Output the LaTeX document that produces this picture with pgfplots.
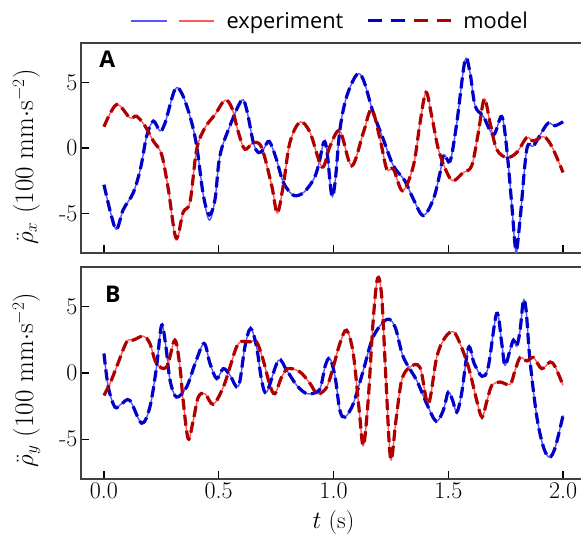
\documentclass[border=0pt]{standalone}
\usepackage{fontspec}
\usepackage{pgfplots}
\usepackage{pgfplotstable}
\pgfplotsset{compat=1.18}
\newfontfamily\opensans{Open Sans}

\definecolor{expblue}{RGB}{85,85,255}
\definecolor{expred}{RGB}{255,90,90}
\definecolor{modblue}{RGB}{0,0,200}
\definecolor{modred}{RGB}{175,0,0}

% panel A, x component
\pgfplotstableread{
t exp mod
0.000 -2.80 -2.80
0.030 -5.00 -5.00
0.055 -6.20 -6.20
0.084 -4.70 -4.70
0.128 -3.40 -3.40
0.160 -1.50 -1.50
0.186 0.90 0.90
0.215 2.05 2.05
0.244 1.30 1.30
0.266 1.90 1.90
0.309 4.45 4.45
0.338 4.20 4.20
0.375 2.40 2.40
0.404 0.15 0.15
0.433 -3.60 -3.60
0.459 -5.50 -5.10
0.484 -3.90 -3.90
0.505 -0.60 -0.60
0.549 1.70 1.70
0.600 3.64 3.64
0.622 2.90 2.90
0.651 0.40 0.40
0.673 -0.35 -0.35
0.695 -0.10 -0.10
0.720 0.50 0.50
0.752 -0.90 -0.90
0.781 -2.60 -2.60
0.825 -3.60 -3.60
0.869 -3.40 -3.40
0.913 -2.40 -2.40
0.935 -1.30 -1.30
0.958 0.45 0.45
0.972 -0.30 -0.30
0.992 -3.60 -3.60
1.007 -2.60 -2.60
1.028 1.40 1.40
1.057 3.90 3.90
1.101 5.58 5.58
1.130 5.20 5.20
1.173 2.70 2.70
1.217 0.66 0.66
1.261 -1.36 -1.36
1.311 -2.50 -2.50
1.348 -3.90 -3.90
1.391 -5.15 -5.15
1.435 -3.90 -3.90
1.464 -1.90 -1.90
1.481 -0.50 -0.50
1.508 -1.00 -1.00
1.537 1.90 1.90
1.573 6.67 6.67
1.595 5.70 5.70
1.617 3.20 3.20
1.653 2.40 2.40
1.697 1.00 1.00
1.733 2.40 2.40
1.755 -0.10 -0.10
1.777 -4.40 -4.40
1.795 -8.00 -7.80
1.813 -5.40 -5.40
1.842 -0.10 -0.10
1.871 0.15 0.15
1.907 1.20 1.20
1.936 1.90 1.90
1.965 1.70 1.70
2.000 2.00 2.00
}\Ablue

\pgfplotstableread{
t exp mod
0.000 1.62 1.62
0.055 3.31 3.31
0.113 2.30 2.30
0.142 2.42 2.42
0.179 1.67 1.67
0.215 0.53 0.53
0.251 -0.48 -0.48
0.280 -3.10 -3.10
0.314 -7.00 -6.85
0.345 -4.90 -4.90
0.375 -4.10 -4.10
0.404 -0.10 -0.10
0.440 1.54 1.54
0.484 2.55 2.55
0.527 3.64 3.64
0.557 3.06 3.06
0.586 1.17 1.17
0.614 -0.10 -0.10
0.651 0.41 0.41
0.687 0.03 0.03
0.731 -2.88 -2.88
0.755 -4.95 -4.95
0.781 -2.88 -2.88
0.810 0.41 0.41
0.854 1.97 1.97
0.898 1.17 1.17
0.950 -1.45 -1.45
0.985 0.15 0.15
1.028 1.29 1.29
1.079 -1.36 -1.36
1.130 1.17 1.17
1.166 2.93 2.93
1.203 0.66 0.66
1.232 -1.61 -1.61
1.261 -1.61 -1.61
1.301 -3.26 -3.26
1.348 -1.36 -1.36
1.377 1.92 1.92
1.403 4.24 4.24
1.428 2.42 2.42
1.457 -0.10 -0.10
1.494 -1.86 -1.86
1.522 -2.50 -2.50
1.566 -1.86 -1.86
1.602 -1.36 -1.36
1.631 1.17 1.17
1.657 3.74 3.74
1.682 1.92 1.92
1.711 -0.10 -0.10
1.755 -0.73 -0.73
1.798 -0.35 -0.35
1.842 0.79 0.79
1.871 0.53 0.53
1.915 0.86 0.86
1.950 0.15 0.15
2.000 -1.86 -1.86
}\Ared

% panel B, y component
\pgfplotstableread{
t exp mod
0.000 1.47 1.47
0.019 -1.06 -1.06
0.048 -2.58 -2.58
0.077 -2.32 -2.32
0.113 -2.07 -2.07
0.164 -3.79 -3.79
0.200 -2.58 -2.58
0.229 0.45 0.45
0.251 3.61 3.61
0.270 1.97 1.97
0.288 -0.55 -0.55
0.316 -1.82 -1.82
0.360 -1.06 -1.06
0.397 0.71 0.71
0.436 2.23 2.23
0.462 0.71 0.71
0.491 -0.42 -0.42
0.520 0.33 0.33
0.549 -0.17 -0.17
0.586 -1.01 -1.01
0.614 1.97 1.97
0.639 3.36 3.36
0.665 1.97 1.97
0.687 -0.55 -0.55
0.709 -1.44 -1.44
0.760 0.96 0.96
0.796 0.20 0.20
0.840 -0.93 -0.93
0.883 -1.56 -1.56
0.927 -1.44 -1.44
0.945 -1.00 -1.00
0.965 0.60 0.60
0.985 1.09 1.09
1.007 -0.30 -0.30
1.028 -2.83 -2.83
1.050 -3.33 -3.33
1.086 -2.32 -2.32
1.130 0.20 0.20
1.173 2.73 2.73
1.232 4.04 4.04
1.268 3.48 3.48
1.304 1.21 1.21
1.362 -0.55 -0.55
1.406 -2.32 -2.32
1.447 -3.64 -3.64
1.478 -2.83 -2.83
1.500 -1.44 -1.44
1.519 -2.07 -2.07
1.537 -2.95 -2.95
1.558 -1.56 -1.56
1.588 1.92 1.92
1.613 0.71 0.71
1.647 -0.25 -0.25
1.674 0.45 0.45
1.711 4.50 4.50
1.733 2.23 2.23
1.747 0.58 0.58
1.769 1.72 1.72
1.784 2.48 2.48
1.798 2.02 2.02
1.813 3.23 3.23
1.827 5.45 5.45
1.839 4.75 4.75
1.856 0.96 0.96
1.886 -3.33 -3.33
1.915 -5.61 -5.61
1.941 -6.36 -6.36
1.966 -5.61 -5.61
2.000 -3.20 -3.20
}\Bblue

\pgfplotstableread{
t exp mod
0.000 -1.69 -1.69
0.026 -0.80 -0.80
0.055 0.45 0.45
0.099 2.35 2.35
0.128 2.48 2.48
0.172 2.78 2.78
0.200 2.23 2.23
0.229 0.71 0.71
0.273 0.45 0.45
0.309 2.48 2.48
0.331 0.45 0.45
0.345 -2.07 -2.07
0.367 -4.97 -4.97
0.389 -3.58 -3.58
0.411 -1.82 -1.82
0.440 -1.56 -1.56
0.476 -2.37 -2.37
0.520 -1.06 -1.06
0.549 0.45 0.45
0.586 2.23 2.23
0.636 2.35 2.35
0.665 2.35 2.35
0.694 0.96 0.96
0.723 -0.93 -0.93
0.745 -1.56 -1.56
0.774 -0.30 -0.30
0.803 0.33 0.33
0.854 0.08 0.08
0.898 -0.80 -0.80
0.927 -1.56 -1.56
0.955 -1.40 -1.40
0.975 -0.90 -0.90
0.999 0.45 0.45
1.028 2.23 2.23
1.057 3.23 3.23
1.086 1.47 1.47
1.112 -2.83 -2.83
1.130 -5.48 -5.48
1.151 -2.07 -2.07
1.173 3.99 3.99
1.192 7.15 7.15
1.210 5.76 5.76
1.228 -0.30 -0.30
1.249 -6.49 -6.49
1.272 -3.58 -3.58
1.297 -0.55 -0.55
1.333 0.45 0.45
1.377 0.41 0.41
1.413 -2.32 -2.32
1.450 1.21 1.21
1.486 2.68 2.68
1.522 3.11 3.11
1.551 2.23 2.23
1.588 0.45 0.45
1.624 -2.07 -2.07
1.647 -3.33 -3.33
1.669 -2.07 -2.07
1.690 -0.93 -0.93
1.725 -0.68 -0.68
1.769 -0.86 -0.86
1.791 0.20 0.20
1.813 1.17 1.17
1.842 0.91 0.91
1.871 1.17 1.17
1.907 0.33 0.33
1.944 0.83 0.83
1.966 0.45 0.45
2.000 -0.93 -0.93
}\Bred

\pgfplotsset{
  panel/.style={
    scale only axis, width=505pt,
    xmin=-0.1, xmax=2.1, ymin=-8, ymax=8,
    xtick={0,0.5,1,1.5,2},
    ytick={-5,0,5}, yticklabels={-5,0,5},
    tick align=inside, xtick pos=bottom, ytick pos=left,
    major tick length=8pt,
    tick style={black, line width=1.2pt},
    axis line style={black!75, line width=1.2pt},
    ticklabel style={font=\fontsize{24}{28}\selectfont},
    label style={font=\fontsize{24}{28}\selectfont},
  },
  exp/.style={line width=1.4pt, smooth, tension=0.55, no markers},
  mod/.style={line width=3.2pt, dash pattern=on 11pt off 5pt, smooth, tension=0.55, no markers},
}

\begin{document}
\begin{tikzpicture}
% panel B (bottom)
\begin{axis}[panel, height=212pt, at={(0,0)},
  xticklabels={0.0,0.5,1.0,1.5,2.0},
  xlabel={$t$ (s)},
  xlabel style={at={(axis description cs:0.5,0)}, anchor=center, yshift=-44pt},
  ylabel={$\ddot{\rho}_y$ (100 mm$\cdot$s$^{-2}$)},
  ylabel style={at={(axis description cs:-0.108,0.467)}, anchor=center,
    font=\fontsize{27}{30}\selectfont},
]
\addplot[exp, expblue] table[x=t, y=exp] {\Bblue};
\addplot[exp, expred] table[x=t, y=exp] {\Bred};
\addplot[mod, modblue] table[x=t, y=mod] {\Bblue};
\addplot[mod, modred] table[x=t, y=mod] {\Bred};
\node[font=\opensans\bfseries\fontsize{23}{26}\selectfont] at (axis description cs:0.063,0.87) {B};
\end{axis}

% panel A (top)
\begin{axis}[panel, height=210pt, at={(0,226pt)},
  xticklabels={},
  ylabel={$\ddot{\rho}_x$ (100 mm$\cdot$s$^{-2}$)},
  ylabel style={at={(axis description cs:-0.108,0.457)}, anchor=center,
    font=\fontsize{27}{30}\selectfont},
  legend style={at={(axis description cs:0.493,1.105)}, anchor=center,
    draw=none, fill=none, legend columns=2,
    font=\opensans\fontsize{21.8}{25}\selectfont,
    /tikz/every odd column/.append style={column sep=10pt},
    /tikz/every even column/.append style={column sep=21pt}},
]
\addlegendimage{legend image code/.code={
  \draw[expblue, line width=1.6pt] (0pt,0pt) -- (36pt,0pt);
  \draw[expred, line width=1.6pt] (48pt,0pt) -- (83pt,0pt);}}
\addlegendentry{experiment}
\addlegendimage{legend image code/.code={
  \draw[modblue, line width=3pt, dash pattern=on 14pt off 9pt] (0pt,0pt) -- (37pt,0pt);
  \draw[modred, line width=3pt, dash pattern=on 14pt off 9pt] (46pt,0pt) -- (84pt,0pt);}}
\addlegendentry{\hspace*{-2pt}model}
\addplot[exp, expblue] table[x=t, y=exp] {\Ablue};
\addplot[exp, expred] table[x=t, y=exp] {\Ared};
\addplot[mod, modblue] table[x=t, y=mod] {\Ablue};
\addplot[mod, modred] table[x=t, y=mod] {\Ared};
\node[font=\opensans\bfseries\fontsize{23}{26}\selectfont] at (axis description cs:0.052,0.921) {A};
\end{axis}
\pgfresetboundingbox
\path (-81pt,-61pt) rectangle (500pt,479pt);
\end{tikzpicture}
\end{document}
